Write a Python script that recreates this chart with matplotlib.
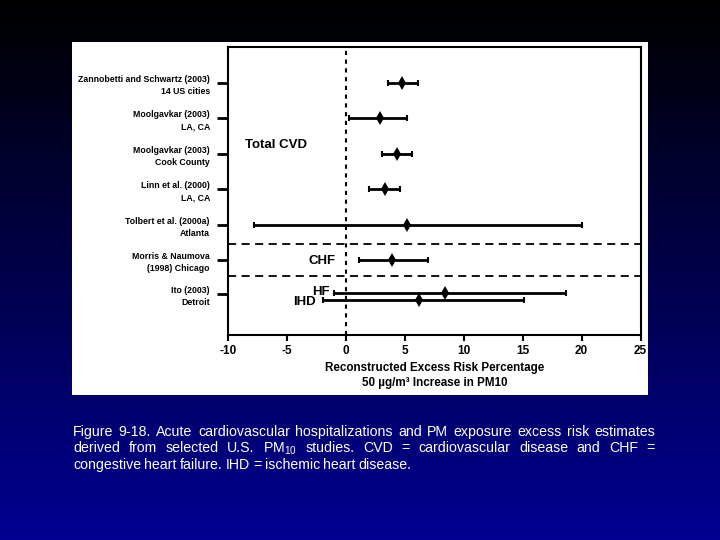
import matplotlib
matplotlib.use("Agg")
import matplotlib.pyplot as plt
import numpy as np
from matplotlib.colors import LinearSegmentedColormap

plt.rcParams["font.family"] = ["Liberation Sans", "DejaVu Sans"]
plt.rcParams["mathtext.fontset"] = "custom"
plt.rcParams["mathtext.rm"] = "Liberation Sans"
plt.rcParams["mathtext.default"] = "regular"

# studies (row labels, top to bottom)
studies = [
    "Zannobetti and Schwartz (2003)\n14 US cities",
    "Moolgavkar (2003)\nLA, CA",
    "Moolgavkar (2003)\nCook County",
    "Linn et al. (2000)\nLA, CA",
    "Tolbert et al. (2000a)\nAtlanta",
    "Morris & Naumova\n(1998) Chicago",
    "Ito (2003)\nDetroit",
]
row_pos = [0, 1, 2, 3, 4, 5, 5.95]

# estimates: excess risk % per 50 ug/m3 PM10 with 95% CI
est_pos = [0, 1, 2, 3, 4, 5, 5.93, 6.11]
estimate = [4.8, 2.9, 4.3, 3.3, 5.2, 3.9, 8.4, 6.2]
ci_low = [3.6, 0.3, 3.1, 2.0, -7.8, 1.1, -1.0, -1.9]
ci_high = [6.1, 5.2, 5.6, 4.6, 20.0, 7.0, 18.7, 15.1]

caption_lines = [
    "Figure 9-18.  Acute cardiovascular hospitalizations and PM exposure excess risk estimates",
    "derived from selected U.S. PM$_{10}$ studies.  CVD = cardiovascular disease and CHF =",
    "congestive heart failure.  IHD = ischemic heart disease.",
]

fig = plt.figure(figsize=(7.2, 5.4), dpi=100)

# gradient background
bg = fig.add_axes([0, 0, 1, 1])
cmap = LinearSegmentedColormap.from_list("slide", ["#000000", "#00004a", "#000092"])
bg.imshow(np.linspace(0, 1, 256).reshape(-1, 1), aspect="auto", cmap=cmap,
          extent=[0, 1, 0, 1])
bg.set_axis_off()

# white panel
panel = fig.add_axes([72 / 720, 1 - 395 / 540, 576 / 720, 353 / 540])
panel.set_facecolor("white")
panel.set_xticks([])
panel.set_yticks([])
for s in panel.spines.values():
    s.set_visible(False)

ax = fig.add_axes([228 / 720, 1 - 335 / 540, 412.5 / 720, 288 / 540])
ax.set_facecolor("white")

est = np.array(estimate)
lo = np.array(ci_low)
hi = np.array(ci_high)
ax.errorbar(est, est_pos, xerr=[est - lo, hi - est], fmt="none", ecolor="black",
            elinewidth=2, capsize=2, capthick=1.5, zorder=3)
ax.plot(est, est_pos, "d", color="black", markersize=7, markeredgewidth=0, zorder=4)

ax.axvline(0, color="black", lw=1.5, ls=(0, (2, 2.2)), zorder=2)
for yy in [4.54, 5.45]:
    ax.axhline(yy, color="black", lw=1.3, ls=(0, (4.5, 3)), zorder=2)

ax.set_xlim(-10, 25)
ax.set_ylim(7.11, -1.01)
ax.set_xticks(range(-10, 26, 5))
ax.set_xticklabels([str(v) for v in range(-10, 26, 5)], fontsize=8.5,
                   fontweight="bold")
ax.set_yticks(row_pos)
ax.set_yticklabels(studies, fontsize=6.3, fontweight="bold", linespacing=1.45)
for lab in ax.get_yticklabels():
    lab.set_multialignment("right")
ax.tick_params(axis="y", length=8, width=2, pad=5)
ax.tick_params(axis="x", length=4, width=1.5, pad=3)
for s in ax.spines.values():
    s.set_linewidth(1.5)

ax.set_xlabel("Reconstructed Excess Risk Percentage\n50 µg/m³ Increase in PM10",
              fontsize=8.4, fontweight="bold", labelpad=4, linespacing=1.25)

ax.text(-8.55, 1.75, "Total CVD", fontsize=9.5, fontweight="bold",
        ha="left", va="center")
ax.text(-0.84, 5.02, "CHF", fontsize=9.5, fontweight="bold", ha="right", va="center")
ax.text(-1.39, 5.89, "HF", fontsize=9.5, fontweight="bold", ha="right", va="center")
ax.text(-2.55, 6.19, "IHD", fontsize=9.5, fontweight="bold", ha="right", va="center")

# justified caption
renderer = fig.canvas.get_renderer()
left_px, right_px = 73, 655
line_y = [432, 448.5, 465]
for i, line in enumerate(caption_lines):
    words = line.split()
    texts = [fig.text(0, 0, w, color="white", fontsize=10.2, va="center", ha="left")
             for w in words]
    widths = [t.get_window_extent(renderer).width for t in texts]
    if i < len(caption_lines) - 1:
        gap = (right_px - left_px - sum(widths)) / (len(words) - 1)
    else:
        gap = 3.2
    x = left_px
    for t, w in zip(texts, widths):
        t.set_position((x / 720, 1 - line_y[i] / 540))
        x += w + gap

fig.savefig("out.png", dpi=100)
